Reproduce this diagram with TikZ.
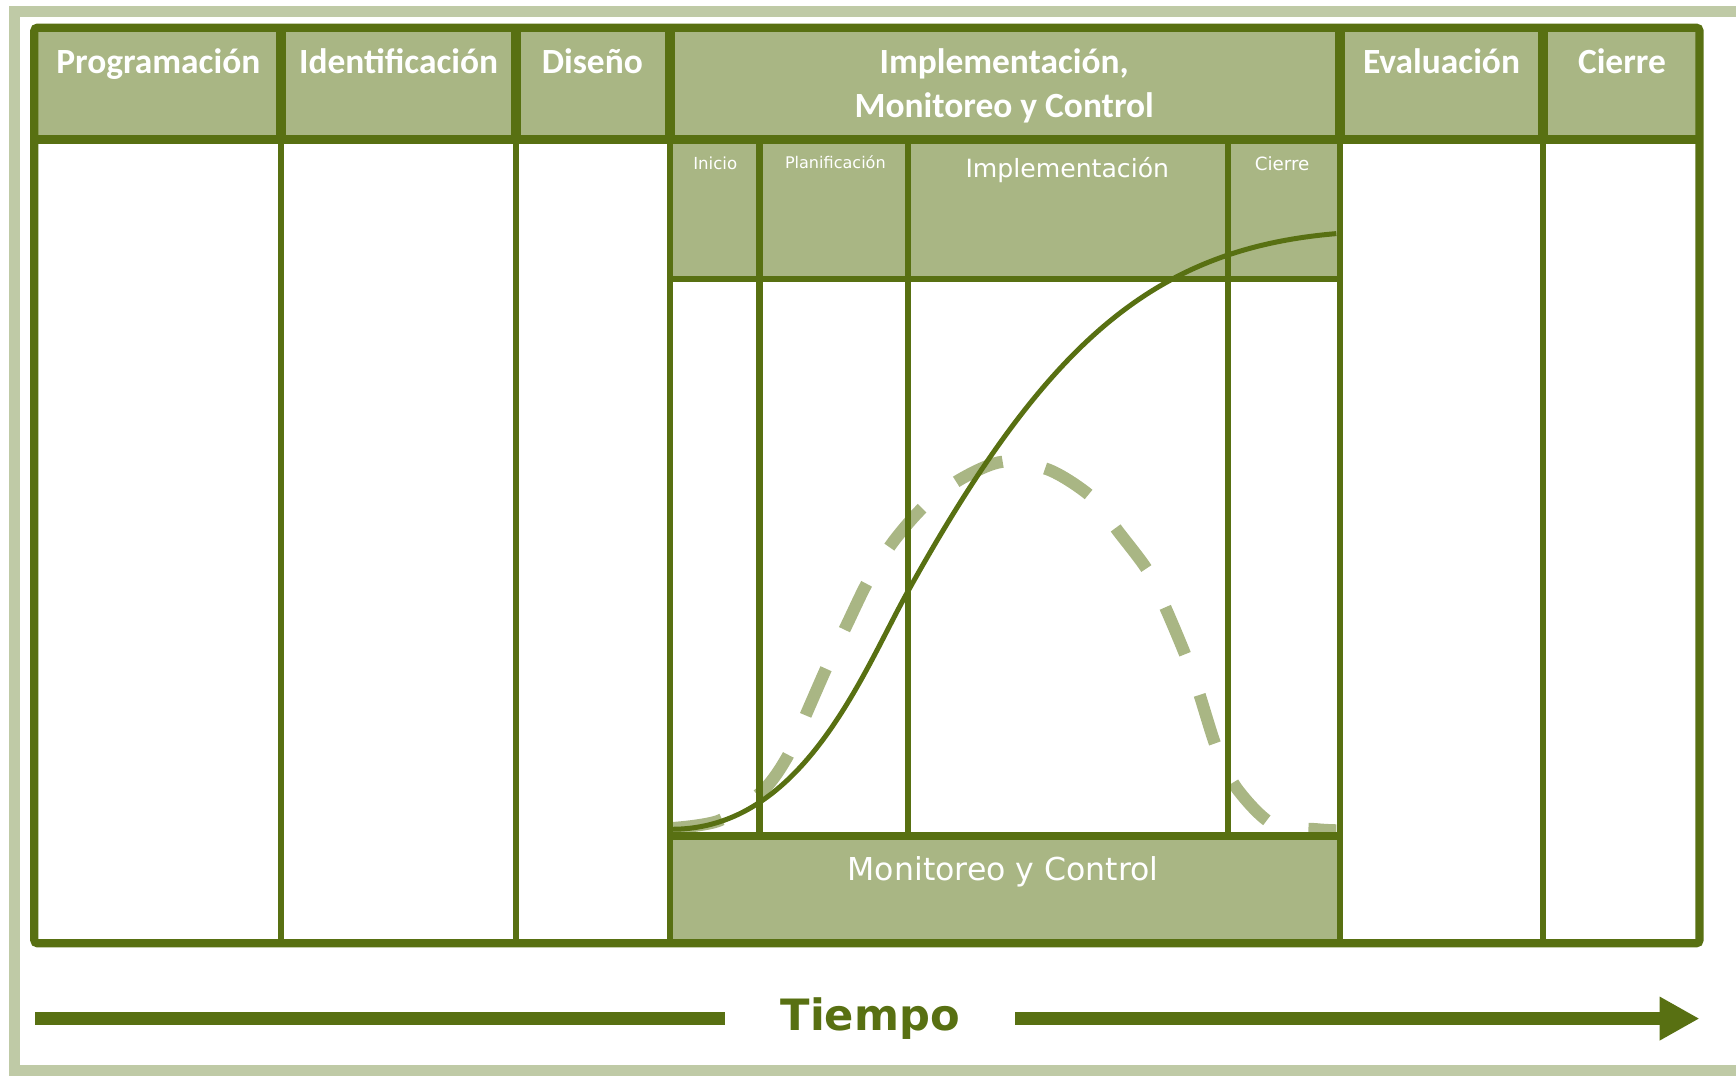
\documentclass[tikz,border=0pt]{standalone}
\usepackage{fontspec}
\setmainfont{DejaVu Sans}
\newfontfamily\headfont{Carlito}
\usetikzlibrary{arrows.meta}
\definecolor{darkolive}{RGB}{88,112,18}
\definecolor{paleolive}{RGB}{169,182,132}
\definecolor{frameolive}{RGB}{191,202,166}

\begin{document}
\begin{tikzpicture}[x=1pt, y=-1pt,
  grid/.style={draw=darkolive, line width=5.5pt},
  head/.style={font=\headfont\bfseries\fontsize{32}{40}\selectfont, text=white, anchor=base, inner sep=0pt},
  sub/.style={text=white, anchor=base, inner sep=0pt}]
\useasboundingbox (0,0) rectangle (1568,971);
\draw[frameolive, line width=10pt] (1568,10) -- (13,10) -- (13,967) -- (1568,967);
\fill[paleolive] (31,25) rectangle (1535,126);
\fill[paleolive] (605,126) rectangle (1209,252);
\fill[paleolive] (605,755) rectangle (1209,852);
\draw[paleolive, line width=11pt, dash pattern=on 46pt off 39pt] plot[smooth, tension=0.5] coordinates {(607,748) (650,741) (689.5,713.6) (712,682) (729,643) (747,602) (765,564) (784,525) (807,489) (836,456) (869,432) (906,417) (948,424.6) (986,449) (1010,480) (1037,516) (1054,552) (1072,595) (1083,626) (1099,676) (1117,712) (1149,744) (1189,749) (1207,750)};
\draw[darkolive, line width=4.5pt] (607,749) .. controls (725,749) and (779,608) .. (819,536) .. controls (944,311) and (1040,225) .. (1207,211);
\foreach \x in {254,466,605,1210,1394} {
  \draw[grid] (\x,25) -- (\x,852);
  \draw[grid, line width=9pt] (\x,25) -- (\x,126);
}
\foreach \x in {686,820,1109}
  \draw[grid] (\x,126) -- (\x,755);
\draw[grid] (605,252) -- (1210,252);
\draw[grid, line width=7.5pt] (605,755) -- (1210,755);
\draw[grid, line width=7.5pt] (31,126) -- (1535,126);
\draw[grid, line width=7.5pt, rounded corners=3pt] (31,25) rectangle (1535,852);
\node[head] (prog) at (143,66) {Programación};
\node[head] (ident) at (360,66) {Identificación};
\node[head] (dis) at (535,66) {Diseño};
\node[head] (impl) at (907,66) {Implementación,};
\node[head] (monit) at (907,106) {Monitoreo y Control};
\node[head] (eval) at (1302,66) {Evaluación};
\node[head] (cierre) at (1465,66) {Cierre};
\node[sub, font=\fontsize{15}{15}\selectfont] (inicio) at (646,153.5) {Inicio};
\node[sub, font=\fontsize{14.5}{15}\selectfont] (plan) at (754.5,152) {Planificación};
\node[sub, font=\fontsize{22.7}{23}\selectfont] (implsub) at (964,160.5) {Implementación};
\node[sub, font=\fontsize{16.5}{17}\selectfont] (cierresub) at (1158,154) {Cierre};
\node[sub, font=\fontsize{28.5}{29}\selectfont] (monitsub) at (906,795) {Monitoreo y Control};
\node[font=\bfseries\fontsize{39}{39}\selectfont, text=darkolive, minimum width=262pt, inner sep=0pt, anchor=base] (tiempo) at (786,931) {Tiempo};
\coordinate (tstart) at (32,920);
\coordinate (tend) at (1535,920);
\draw[darkolive, line width=12pt] (tstart) -- (tstart -| tiempo.west);
\draw[darkolive, line width=12pt, -{Triangle[length=36pt, width=37pt]}] (tend -| tiempo.east) -- (tend);
\end{tikzpicture}
\end{document}
